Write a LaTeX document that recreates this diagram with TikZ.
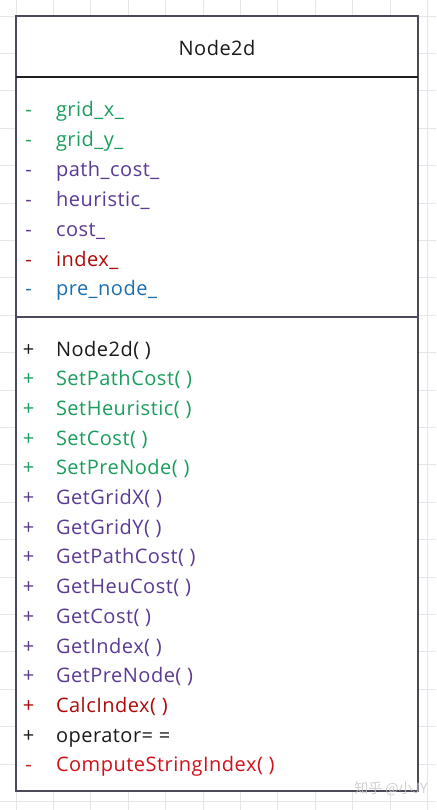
\documentclass[tikz,border=0pt]{standalone}
\usepackage{fontspec}
\setmainfont{Open Sans}[LetterSpace=2.5]
\newfontfamily\cjkfont{Noto Sans CJK SC}
\definecolor{gridline}{HTML}{E6E6E6}
\definecolor{frame}{HTML}{4A4A58}
\definecolor{cgreen}{HTML}{1A9E5C}
\definecolor{cpurple}{HTML}{5B3A92}
\definecolor{cdarkred}{HTML}{AE0A0A}
\definecolor{cblue}{HTML}{1A70B0}
\definecolor{cred}{HTML}{D0101A}
\definecolor{ctext}{HTML}{1A1A1A}
\begin{document}
\begin{tikzpicture}[x=1pt,y=-1pt,
  every node/.style={inner sep=0pt, outer sep=0pt, font=\fontsize{20}{22}\selectfont},
  sign/.style={anchor=base},
  member/.style={anchor=base west},
  divider/.style={draw=frame, line width=1.2pt}]
  \useasboundingbox (0,0) rectangle (436,810);
  % background grid
  \foreach \k in {0,...,11} {
    \draw[gridline, line width=0.8pt] (16+37.4*\k,0) -- (16+37.4*\k,810);
  }
  \foreach \k in {0,...,21} {
    \draw[gridline, line width=0.8pt] (0,16+37.4*\k) -- (436,16+37.4*\k);
  }
  % class box
  \node[draw=frame, fill=white, line width=1.2pt, minimum width=402pt, minimum height=775pt, anchor=north west] (box) at (16,16) {};
  \coordinate (t1) at (16,77);
  \coordinate (t2) at (418,77);
  \coordinate (a1) at (16,317);
  \coordinate (a2) at (418,317);
  \draw[divider, draw=ctext!90!frame] (t1) -- (t2);
  \draw[divider] (a1) -- (a2);
  \node[anchor=base, text=ctext] (title) at (217,56) {Node2d};
  % attributes
  \foreach \i/\c/\s/\t in {
      0/cgreen/-/grid\_x\_,
      1/cgreen/-/grid\_y\_,
      2/cpurple/-/path\_cost\_,
      3/cpurple/-/heuristic\_,
      4/cpurple/-/cost\_,
      5/cdarkred/-/index\_,
      6/cblue/-/pre\_node\_} {
    \node[sign, text=\c] (as\i) at (28.5,117+29.8*\i) {\s};
    \node[member, text=\c] (at\i) at (56,117+29.8*\i) {\t};
  }
  % operations
  \foreach \i/\c/\s/\t in {
      0/ctext/+/Node2d( ),
      1/cgreen/+/SetPathCost( ),
      2/cgreen/+/SetHeuristic( ),
      3/cgreen/+/SetCost( ),
      4/cgreen/+/SetPreNode( ),
      5/cpurple/+/GetGridX( ),
      6/cpurple/+/GetGridY( ),
      7/cpurple/+/GetPathCost( ),
      8/cpurple/+/GetHeuCost( ),
      9/cpurple/+/GetCost( ),
      10/cpurple/+/GetIndex( ),
      11/cpurple/+/GetPreNode( ),
      12/cdarkred/+/CalcIndex( ),
      13/ctext/+/operator= =,
      14/cred/-/ComputeStringIndex( )} {
    \node[sign, text=\c] (ms\i) at (28.5,356+29.7*\i) {\s};
    \node[member, text=\c] (mt\i) at (56,356+29.7*\i) {\t};
  }
  % watermark
  \node[anchor=center, text=gray!45, opacity=0.8, font=\cjkfont\fontsize{14}{16}\selectfont] (wm) at (391,789) {知乎 @小JY};
\end{tikzpicture}
\end{document}
